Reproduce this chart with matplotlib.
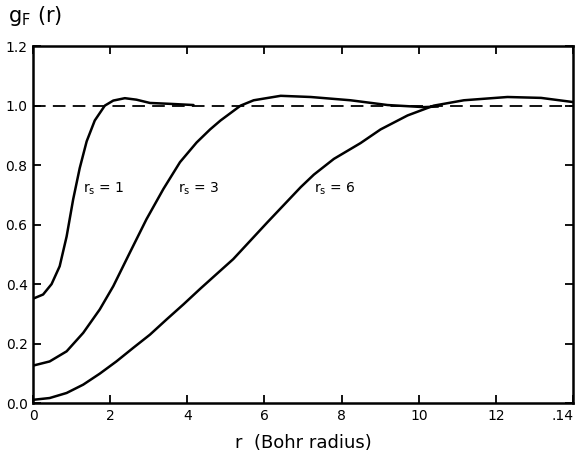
import matplotlib
matplotlib.use('Agg')
import matplotlib.pyplot as plt

# values
r1 = [0.0, 0.26, 0.48, 0.69, 0.87, 1.04, 1.21, 1.39, 1.6, 1.86, 2.08, 2.38, 2.68, 3.03, 3.55, 4.16]
g1 = [0.351, 0.365, 0.40, 0.46, 0.56, 0.685, 0.79, 0.88, 0.95, 1.0, 1.017, 1.025, 1.02, 1.009, 1.006, 1.002]

r3 = [0.0, 0.43, 0.87, 1.3, 1.73, 2.08, 2.51, 2.94, 3.38, 3.81, 4.24, 4.59, 4.86, 5.38, 5.72, 6.42, 7.2, 8.23, 9.19, 10.13, 10.5]
g3 = [0.126, 0.14, 0.174, 0.236, 0.315, 0.393, 0.506, 0.618, 0.72, 0.81, 0.876, 0.92, 0.95, 1.0, 1.018, 1.033, 1.029, 1.018, 1.002, 0.995, 0.997]

r6 = [0.0, 0.43, 0.87, 1.3, 1.73, 2.16, 2.6, 3.03, 3.46, 3.9, 4.34, 4.7, 5.19, 6.07, 6.94, 7.28, 7.8, 8.49, 9.01, 9.71, 10.39, 11.17, 12.3, 13.17, 14.0]
g6 = [0.011, 0.017, 0.034, 0.062, 0.099, 0.14, 0.186, 0.23, 0.281, 0.332, 0.385, 0.427, 0.484, 0.607, 0.726, 0.768, 0.821, 0.874, 0.92, 0.967, 1.0, 1.018, 1.029, 1.026, 1.012]

labels = ['1', '3', '6']
label_r = [1.30, 3.77, 7.28]
label_g = [0.72, 0.72, 0.72]

xticks = [0, 2, 4, 6, 8, 10, 12, 14]
xticklabels = ['0', '2', '4', '6', '8', '10', '12', '.14']
yticks = [0.0, 0.2, 0.4, 0.6, 0.8, 1.0, 1.2]
yticklabels = ['0.0', '0.2', '0.4', '0.6', '0.8', '1.0', '1.2']

plt.rcParams['font.family'] = ['DejaVu Sans']
plt.rcParams['mathtext.fontset'] = 'dejavusans'

fig = plt.figure(figsize=(5.8, 4.66), dpi=100)
ax = fig.add_axes([0.057, 0.135, 0.931, 0.766])

ax.axhline(1.0, color='black', lw=1.3, ls=(0, (7, 4)))
for r, g in [(r1, g1), (r3, g3), (r6, g6)]:
    ax.plot(r, g, color='black', lw=1.8, solid_capstyle='round', solid_joinstyle='round')

for lab, x, y in zip(labels, label_r, label_g):
    ax.text(x, y, r'$\mathregular{r_s}$ = ' + lab, fontsize=10, ha='left', va='center')

ax.set_xlim(0, 14)
ax.set_ylim(0, 1.2)
ax.set_xticks(xticks)
ax.set_xticklabels(xticklabels, fontsize=10)
ax.get_xticklabels()[-1].set_horizontalalignment('right')
ax.set_yticks(yticks)
ax.set_yticklabels(yticklabels, fontsize=10)
ax.tick_params(direction='in', length=6, width=1.3, top=True, right=True, pad=4)

for s in ax.spines.values():
    s.set_linewidth(1.8)

ax.set_xlabel('r  (Bohr radius)', fontsize=13, labelpad=8)
fig.text(0.014, 0.965, r'$\mathregular{g_F}$ (r)', fontsize=15, ha='left', va='center')

fig.savefig('out.png', dpi=100)
